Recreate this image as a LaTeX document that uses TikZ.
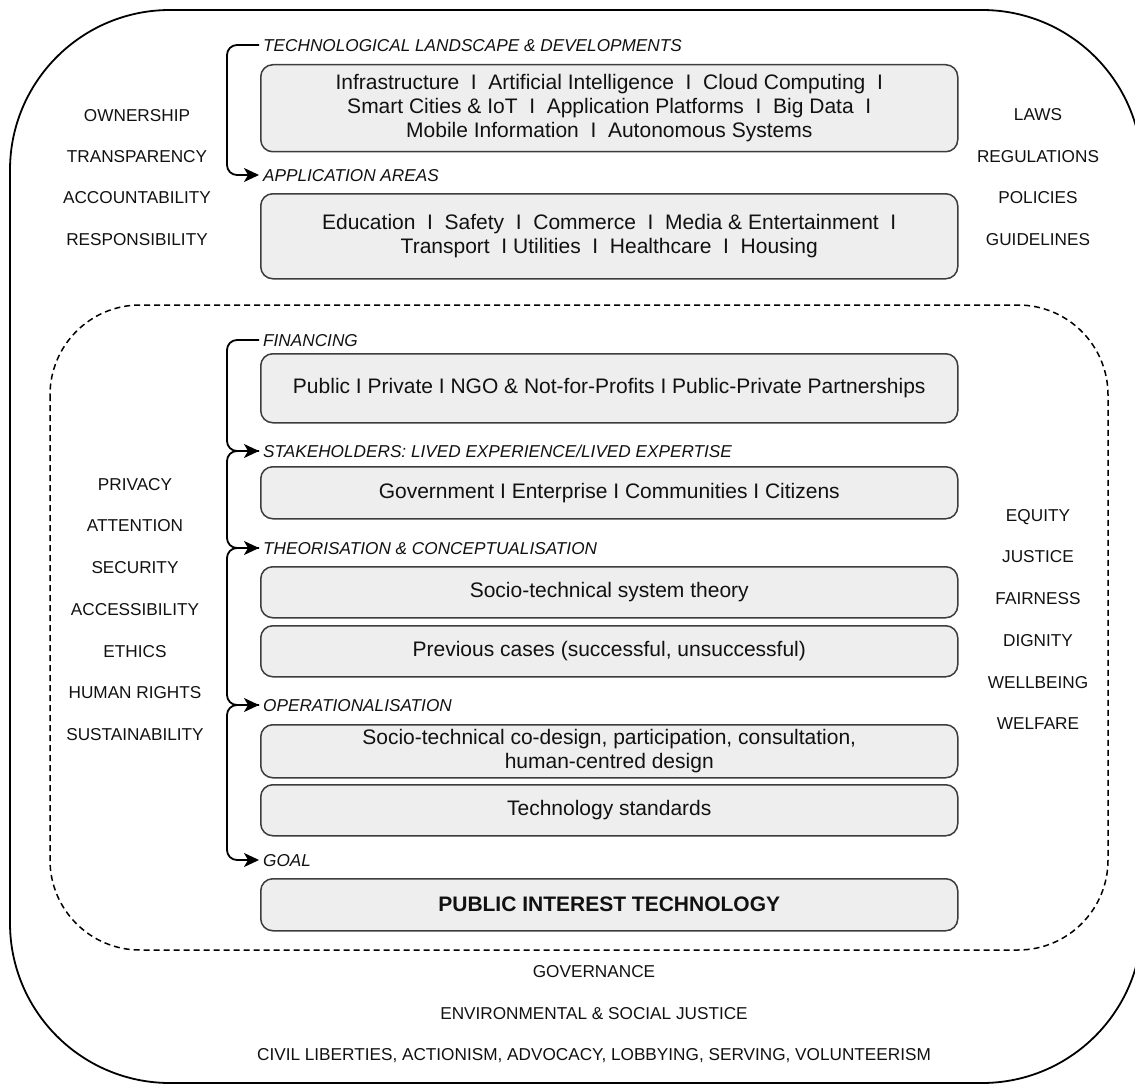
\documentclass[tikz,border=0pt]{standalone}
\usepackage{fontspec}
\setmainfont{Liberation Sans}
\usetikzlibrary{arrows.meta}
\definecolor{boxfill}{HTML}{EEEEEE}
\definecolor{boxline}{HTML}{3C3C3C}
\definecolor{ink}{HTML}{111111}
\tikzset{flowtip/.tip={Stealth[length=15pt,width=14pt,inset=4pt]}}
\begin{document}
\begin{tikzpicture}[x=1pt,y=-1pt,
  box/.style={draw=boxline, fill=boxfill, line width=1.5pt, rounded corners=12pt,
    minimum width=697pt, anchor=north west, align=center,
    font=\fontsize{21}{24}\selectfont, text=ink, inner sep=0pt},
  hdr/.style={anchor=west, font=\fontsize{17.2}{20}\selectfont\itshape, text=ink,
    inner xsep=4pt, inner ysep=0pt, text height=12.3pt, text depth=0pt},
  side/.style={font=\fontsize{17.2}{20}\selectfont, text=ink, inner sep=0pt,
    text height=12.3pt, text depth=0pt},
  flow/.style={line width=1.8pt, rounded corners=10pt, -flowtip},
]
\useasboundingbox (0,0) rectangle (1135,1089);
\clip (0,0) rectangle (1135,1089);

% outer frame and dashed inner frame
\draw[line width=1.8pt, rounded corners=160pt] (10,10) rectangle (1142,1083);
\draw[line width=1.5pt, dash pattern=on 6pt off 4pt, rounded corners=90pt] (50,305) rectangle (1108,950);

% headers
\node[hdr] (tech) at (259,45)  {TECHNOLOGICAL LANDSCAPE \& DEVELOPMENTS};
\node[hdr] (app)  at (259,175) {APPLICATION AREAS};
\node[hdr] (fin)  at (259,340) {FINANCING};
\node[hdr] (stk)  at (259,451) {STAKEHOLDERS: LIVED EXPERIENCE/LIVED EXPERTISE};
\node[hdr] (theo) at (259,548) {THEORISATION \& CONCEPTUALISATION};
\node[hdr] (oper) at (259,705) {OPERATIONALISATION};
\node[hdr] (goal) at (259,860) {GOAL};

% boxes
\node[box, minimum height=87pt] (b1) at (260,64)
  {Infrastructure\ \ I\ \ Artificial Intelligence\ \ I\ \ Cloud Computing\ \ I\\
   Smart Cities \& IoT\ \ I\ \ Application Platforms\ \ I\ \ Big Data\ \ I\\
   Mobile Information\ \ I\ \ Autonomous Systems};
\node[box, minimum height=85pt] (b2) at (260,193)
  {Education\ \ I\ \ Safety\ \ I\ \ Commerce\ \ I\ \ Media \& Entertainment\ \ I\\
   Transport\ \ I Utilities\ \ I\ \ Healthcare\ \ I\ \ Housing};
\node[box, minimum height=69pt] (b3) at (260,353)
  {Public I Private I NGO \& Not-for-Profits I Public-Private Partnerships};
\node[box, minimum height=52pt] (b4) at (260,466)
  {Government I Enterprise I Communities I Citizens};
\node[box, minimum height=51pt] (b5) at (260,566)
  {Socio-technical system theory};
\node[box, minimum height=51pt] (b6) at (260,625)
  {Previous cases (successful, unsuccessful)};
\node[box, minimum height=53pt] (b7) at (260,724)
  {Socio-technical co-design, participation, consultation,\\ human-centred design};
\node[box, minimum height=51pt] (b8) at (260,784)
  {Technology standards};
\node[box, minimum height=52pt, font=\fontsize{21}{24}\selectfont\bfseries] (b9) at (260,878)
  {PUBLIC INTEREST TECHNOLOGY};

% flow connectors
\draw[flow] (tech.west) -- ++(-32,0) |- (app.west);
\draw[flow] (fin.west)  -- ++(-32,0) |- (stk.west);
\draw[flow] (stk.west)  -- ++(-32,0) |- (theo.west);
\draw[flow] (theo.west) -- ++(-32,0) |- (oper.west);
\draw[flow] (oper.west) -- ++(-32,0) |- (goal.west);

% left labels (top)
\node[side] (l1) at (137,115) {OWNERSHIP};
\node[side] (l2) at (137,156) {TRANSPARENCY};
\node[side] (l3) at (137,197) {ACCOUNTABILITY};
\node[side] (l4) at (137,239) {RESPONSIBILITY};
% right labels (top)
\node[side] (r1) at (1038,114) {LAWS};
\node[side] (r2) at (1038,156) {REGULATIONS};
\node[side] (r3) at (1038,197) {POLICIES};
\node[side] (r4) at (1038,239) {GUIDELINES};

% left labels (inner)
\node[side] (p1) at (135,484) {PRIVACY};
\node[side] (p2) at (135,525) {ATTENTION};
\node[side] (p3) at (135,567) {SECURITY};
\node[side] (p4) at (135,609) {ACCESSIBILITY};
\node[side] (p5) at (135,651) {ETHICS};
\node[side] (p6) at (135,692) {HUMAN RIGHTS};
\node[side] (p7) at (135,734) {SUSTAINABILITY};
% right labels (inner)
\node[side] (q1) at (1038,515) {EQUITY};
\node[side] (q2) at (1038,556) {JUSTICE};
\node[side] (q3) at (1038,598) {FAIRNESS};
\node[side] (q4) at (1038,640) {DIGNITY};
\node[side] (q5) at (1038,682) {WELLBEING};
\node[side] (q6) at (1038,723) {WELFARE};

% bottom labels
\node[side] (g1) at (594,971)  {GOVERNANCE};
\node[side] (g2) at (594,1013) {ENVIRONMENTAL \& SOCIAL JUSTICE};
\node[side] (g3) at (594,1054) {CIVIL LIBERTIES, ACTIONISM, ADVOCACY, LOBBYING, SERVING, VOLUNTEERISM};
\end{tikzpicture}
\end{document}
